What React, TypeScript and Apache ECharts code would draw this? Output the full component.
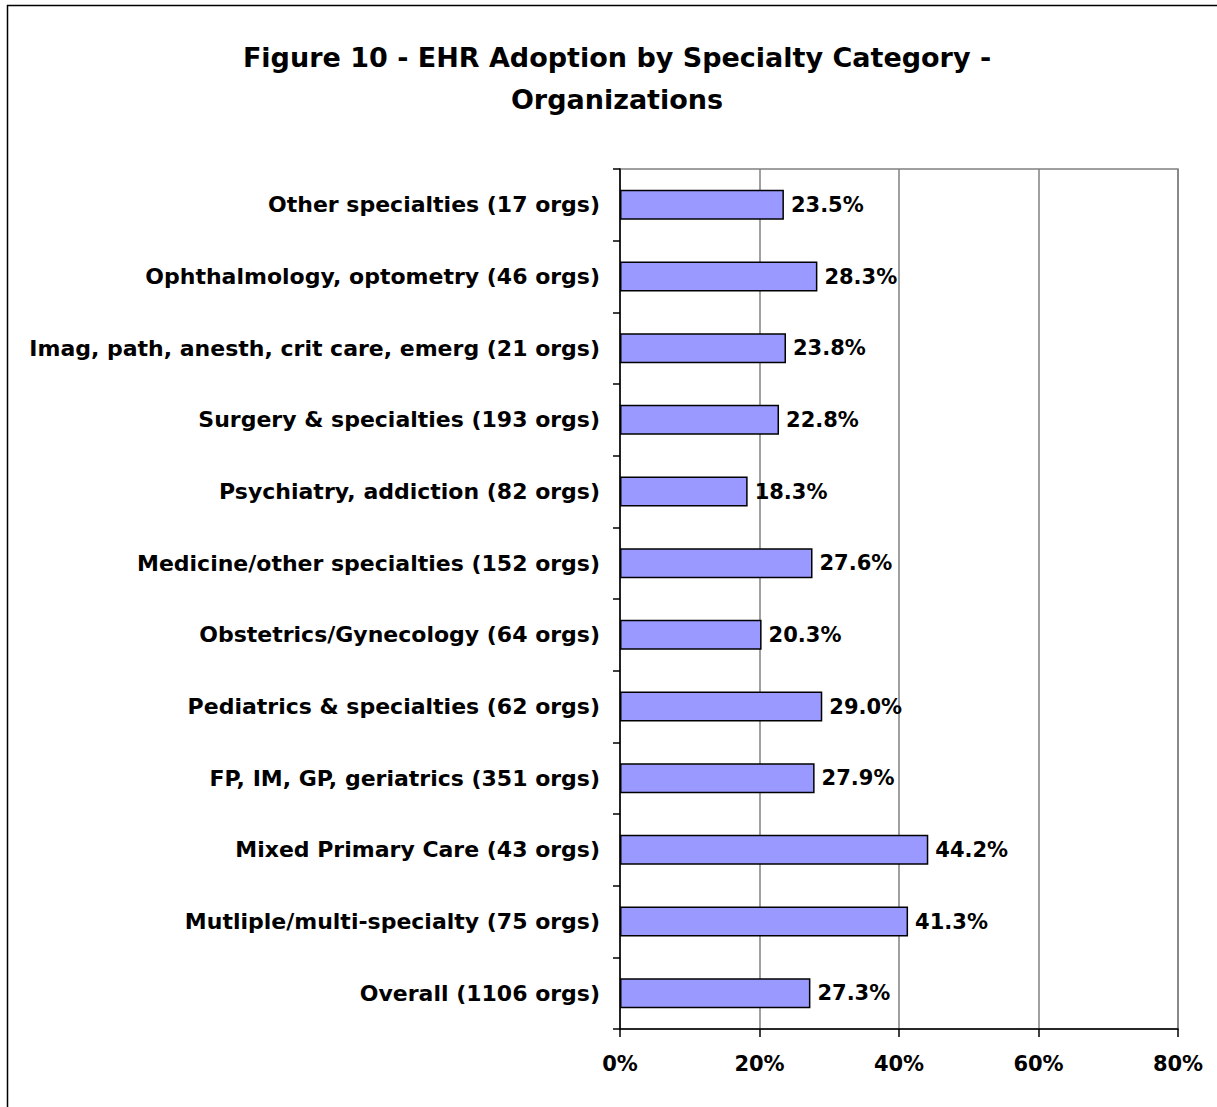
import React, { useEffect, useRef } from "react";
import * as echarts from "echarts";

const categories = [
  "Other specialties (17 orgs)",
  "Ophthalmology, optometry (46 orgs)",
  "Imag, path, anesth, crit care, emerg (21 orgs)",
  "Surgery & specialties (193 orgs)",
  "Psychiatry, addiction (82 orgs)",
  "Medicine/other specialties (152 orgs)",
  "Obstetrics/Gynecology (64 orgs)",
  "Pediatrics & specialties (62 orgs)",
  "FP, IM, GP, geriatrics (351 orgs)",
  "Mixed Primary Care (43 orgs)",
  "Mutliple/multi-specialty (75 orgs)",
  "Overall (1106 orgs)",
];
const values = [23.5, 28.3, 23.8, 22.8, 18.3, 27.6, 20.3, 29.0, 27.9, 44.2, 41.3, 27.3];
const titleText = "Figure 10 - EHR Adoption by Specialty Category -\nOrganizations";

const FONT = "'DejaVu Sans', 'Liberation Sans', Arial, sans-serif";

export default function App() {
  const ref = useRef<HTMLDivElement>(null);
  useEffect(() => {
    if (!ref.current) return;
    const chart = echarts.init(ref.current, undefined, { renderer: "svg" });
    chart.setOption({
      animation: false,
      backgroundColor: "#ffffff",
      textStyle: { fontFamily: FONT },
      title: {
        text: titleText,
        left: 612,
        top: 31,
        textAlign: "center",
        textStyle: {
          fontFamily: FONT,
          fontWeight: "bold",
          fontSize: 27,
          lineHeight: 42,
          color: "#000",
        },
      },
      graphic: [
        {
          type: "rect",
          shape: { x: 7.5, y: 5.5, width: 1300, height: 1200 },
          style: { fill: "none", stroke: "#000", lineWidth: 1.5 },
          silent: true,
          z: 100,
        },
      ],
      grid: { left: 620, right: 39, top: 169, bottom: 78, containLabel: false, show: true, borderColor: "#808080", borderWidth: 1.5 },
      xAxis: {
        type: "value",
        min: 0,
        max: 80,
        interval: 20,
        axisLine: { show: true, lineStyle: { color: "#000", width: 1.5 } },
        axisTick: { show: true, length: 8, lineStyle: { color: "#000", width: 1.5 } },
        splitLine: { show: true, lineStyle: { color: "#808080", width: 1.5 } },
        axisLabel: {
          formatter: "{value}%",
          fontFamily: FONT,
          fontWeight: "bold",
          fontSize: 21,
          color: "#000",
          margin: 24,
        },
      },
      yAxis: {
        type: "category",
        data: categories,
        inverse: true,
        axisLine: { show: true, lineStyle: { color: "#000", width: 1.5 } },
        axisTick: { show: true, length: 7, lineStyle: { color: "#000", width: 1.5 } },
        splitLine: { show: false },
        axisLabel: {
          fontFamily: FONT,
          fontWeight: "bold",
          fontSize: 22,
          color: "#000",
          margin: 20,
        },
      },
      series: [
        {
          type: "bar",
          data: values,
          barWidth: 30,
          itemStyle: { color: "#9999FF", borderColor: "#000", borderWidth: 1.5 },
          label: {
            show: true,
            position: "right",
            distance: 7,
            formatter: (p: any) => p.value.toFixed(1) + "%",
            fontFamily: FONT,
            fontWeight: "bold",
            fontSize: 21,
            color: "#000",
          },
        },
      ],
    });
    return () => chart.dispose();
  }, []);
  return (
    <div
      ref={ref}
      style={{ position: "fixed", left: 0, top: 0, width: 1217, height: 1107 }}
    />
  );
}
